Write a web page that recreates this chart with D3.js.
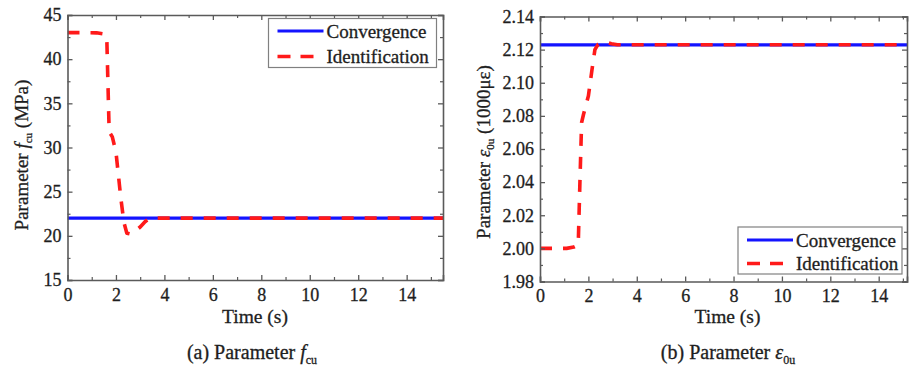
<!DOCTYPE html>
<html>
<head>
<meta charset="utf-8">
<script src="https://cdn.jsdelivr.net/npm/d3@7"></script>
<style>
  html, body { margin: 0; padding: 0; background: #fff; }
  svg { display: block; font-family: "Liberation Serif", "Times New Roman", serif; }
  svg text { stroke: #1e1e1e; stroke-width: 0.3px; }
</style>
</head>
<body>
<svg id="chart" width="909" height="371"></svg>
<script>
// ---------------- DATA ----------------
const seriesNames = ["Convergence", "Identification"];
const xTicks = [0, 2, 4, 6, 8, 10, 12, 14];
const xMinorTicks = [1, 3, 5, 7, 9, 11, 13, 15];

// Panel (a): parameter f_cu (MPa)
const timeA = [0, 0.6, 1.2, 1.5, 1.62, 1.72, 1.85, 2.0, 2.2, 2.33, 2.45, 2.6, 2.75, 3.0, 3.2, 3.4, 15.5];
const fcuIdent = [43, 43, 42.98, 42.85, 42.6, 31.8, 31.2, 29.5, 24.3, 21.5, 20.3, 20.2, 20.45, 21.0, 21.6, 22, 22];
const fcuConvTime = [0, 15.5];
const fcuConv = [22, 22];
const yTicksA = [15, 20, 25, 30, 35, 40, 45];
const yMinorA = [17.5, 22.5, 27.5, 32.5, 37.5, 42.5];

// Panel (b): parameter eps_0u (1000 microstrain)
const timeB = [0, 0.6, 1.1, 1.4, 1.58, 1.65, 1.72, 1.8, 2.0, 2.15, 2.27, 2.4, 2.55, 2.75, 2.95, 3.2, 15.5];
const epsIdent = [2.0, 2.0, 2.0, 2.0008, 2.002, 2.04, 2.076, 2.081, 2.092, 2.108, 2.12, 2.1232, 2.124, 2.1245, 2.1236, 2.1229, 2.1229];
const epsConvTime = [0, 15.5];
const epsConv = [2.1229, 2.1229];
const yTicksB = [1.98, 2.00, 2.02, 2.04, 2.06, 2.08, 2.10, 2.12, 2.14];
const yMinorB = [1.99, 2.01, 2.03, 2.05, 2.07, 2.09, 2.11, 2.13];

// ---------------- STYLE ----------------
const TEXT = "#1e1e1e";
const FRAME = "#5a5a5a";
const BLUE = "#1414ff";
const RED = "#ff1a1a";

const svg = d3.select("#chart");

function panel(cfg) {
  const g = svg.append("g");
  const x = d3.scaleLinear().domain(cfg.xDomain).range([cfg.left, cfg.right]);
  const y = d3.scaleLinear().domain(cfg.yDomain).range([cfg.bottom, cfg.top]);

  const clipId = "clip" + cfg.id;
  svg.append("clipPath").attr("id", clipId)
    .append("rect").attr("x", cfg.left).attr("y", cfg.top)
    .attr("width", cfg.right - cfg.left).attr("height", cfg.bottom - cfg.top);

  // data lines
  const line = d3.line().x(d => x(d[0])).y(d => y(d[1]));
  const conv = cfg.convT.map((t, i) => [t, cfg.convV[i]]);
  const ident = cfg.identT.map((t, i) => [t, cfg.identV[i]]);
  const lines = g.append("g").attr("clip-path", `url(#${clipId})`);
  lines.append("path").datum(conv).attr("d", line)
    .attr("fill", "none").attr("stroke", BLUE).attr("stroke-width", 3.2);
  lines.append("path").datum(ident).attr("d", line)
    .attr("fill", "none").attr("stroke", RED).attr("stroke-width", 3.6)
    .attr("stroke-dasharray", "12,11").attr("stroke-linejoin", "round");

  // axes
  const styleAxis = sel => {
    sel.attr("font-family", "Liberation Serif").attr("font-size", 18);
    sel.select(".domain").attr("stroke", FRAME).attr("stroke-width", 1.6);
    sel.selectAll(".tick line").attr("stroke", FRAME).attr("stroke-width", 1.3);
    sel.selectAll(".tick text").attr("fill", TEXT).attr("font-size", 18)
      .attr("font-family", "Liberation Serif");
  };
  const minorStyle = s => { s.select(".domain").remove(); s.selectAll("line").attr("stroke", FRAME).attr("stroke-width", 1.2); };
  const xMinor = xMinorTicks.filter(v => v <= cfg.xDomain[1]);

  const bottom = g.append("g").attr("transform", `translate(0,${cfg.bottom})`)
    .call(d3.axisBottom(x).tickValues(xTicks).tickSize(-5).tickPadding(8).tickFormat(d3.format("d")));
  styleAxis(bottom);
  g.append("g").attr("transform", `translate(0,${cfg.bottom})`)
    .call(d3.axisBottom(x).tickValues(xMinor).tickSize(-3).tickFormat("")).call(minorStyle);

  const top = g.append("g").attr("transform", `translate(0,${cfg.top})`)
    .call(d3.axisTop(x).tickValues(xTicks).tickSize(-5).tickFormat(""));
  styleAxis(top);
  g.append("g").attr("transform", `translate(0,${cfg.top})`)
    .call(d3.axisTop(x).tickValues(xMinor).tickSize(-3).tickFormat("")).call(minorStyle);

  const left = g.append("g").attr("transform", `translate(${cfg.left},0)`)
    .call(d3.axisLeft(y).tickValues(cfg.yTicks).tickSize(-5).tickPadding(6).tickFormat(cfg.yFormat));
  styleAxis(left);
  g.append("g").attr("transform", `translate(${cfg.left},0)`)
    .call(d3.axisLeft(y).tickValues(cfg.yMinor).tickSize(-3).tickFormat("")).call(minorStyle);

  const right = g.append("g").attr("transform", `translate(${cfg.right},0)`)
    .call(d3.axisRight(y).tickValues(cfg.yTicks).tickSize(-5).tickFormat(""));
  styleAxis(right);
  g.append("g").attr("transform", `translate(${cfg.right},0)`)
    .call(d3.axisRight(y).tickValues(cfg.yMinor).tickSize(-3).tickFormat("")).call(minorStyle);

  // x axis title
  g.append("text").attr("x", cfg.titleX).attr("y", 323).attr("text-anchor", "middle")
    .attr("font-size", 19.5).attr("fill", TEXT).text("Time (s)");

  // y axis title with italic symbol + subscript
  const yt = g.append("text")
    .attr("transform", `translate(${cfg.yLabelX},${cfg.yLabelY}) rotate(-90)`)
    .attr("text-anchor", "middle").attr("font-size", 19).attr("fill", TEXT);
  yt.append("tspan").text("Parameter ");
  yt.append("tspan").attr("font-style", "italic").text(cfg.sym);
  yt.append("tspan").attr("font-size", 11).attr("dy", 4).text(cfg.sub);
  yt.append("tspan").attr("dy", -4).text(cfg.unit);

  // caption
  const cap = g.append("text").attr("x", cfg.capX).attr("y", 359)
    .attr("text-anchor", "middle").attr("font-size", 20).attr("fill", TEXT);
  cap.append("tspan").text(cfg.capPrefix + " Parameter ");
  cap.append("tspan").attr("font-style", "italic").text(cfg.sym);
  cap.append("tspan").attr("font-size", 12).attr("dy", 5).text(cfg.sub);

  // legend
  const L = cfg.legend;
  const lg = g.append("g");
  lg.append("rect").attr("x", L.x).attr("y", L.y).attr("width", L.w).attr("height", L.h)
    .attr("fill", "#fff").attr("stroke", "#808080").attr("stroke-width", 1.2);
  seriesNames.forEach((name, i) => {
    const yy = L.y + L.row0 + i * L.rowGap;
    lg.append("line").attr("x1", L.x + 9).attr("x2", L.x + 55).attr("y1", yy).attr("y2", yy)
      .attr("stroke", i === 0 ? BLUE : RED).attr("stroke-width", i === 0 ? 3.2 : 3.6)
      .attr("stroke-dasharray", i === 0 ? null : "13,10");
    lg.append("text").attr("x", L.x + 58).attr("y", yy + 6.5).attr("font-size", 19)
      .attr("fill", TEXT).text(name);
  });
}

panel({
  id: "A", left: 67.5, right: 443, top: 15, bottom: 280,
  xDomain: [0, 15.5], yDomain: [15, 45],
  yTicks: yTicksA, yMinor: yMinorA, yFormat: d3.format("d"),
  convT: fcuConvTime, convV: fcuConv, identT: timeA, identV: fcuIdent,
  titleX: 255, yLabelX: 28, yLabelY: 155, capX: 252, capPrefix: "(a)",
  sym: "f", sub: "cu", unit: " (MPa)",
  legend: { x: 268.5, y: 18.5, w: 168, h: 49, row0: 12.5, rowGap: 25.5 }
});

panel({
  id: "B", left: 540, right: 907, top: 16.5, bottom: 281.5,
  xDomain: [0, 15.17], yDomain: [1.98, 2.14],
  yTicks: yTicksB, yMinor: yMinorB, yFormat: d3.format(".2f"),
  convT: epsConvTime, convV: epsConv, identT: timeB, identV: epsIdent,
  titleX: 727.5, yLabelX: 490, yLabelY: 152, capX: 728, capPrefix: "(b)",
  sym: "ε", sub: "0u", unit: " (1000με)",
  legend: { x: 738, y: 227, w: 164, h: 47, row0: 13, rowGap: 23.5 }
});
</script>
</body>
</html>
